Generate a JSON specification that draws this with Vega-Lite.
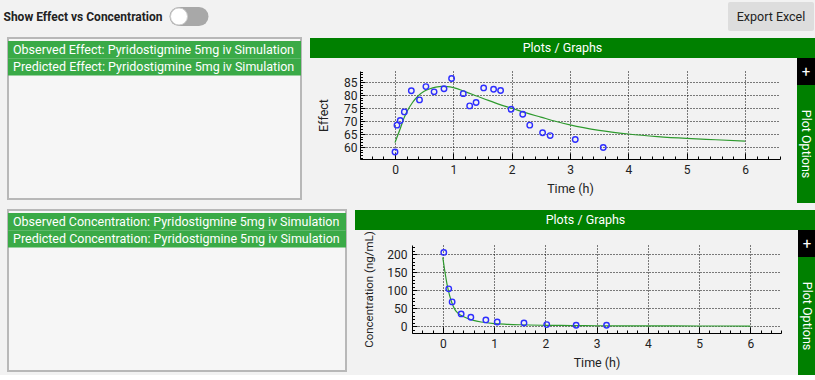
{
  "$schema": "https://vega.github.io/schema/vega-lite/v6.json",
  "background": "#f2f2f2",
  "padding": {"left": 0, "top": 2, "right": 0, "bottom": 0},
  "spacing": 6,
  "config": {
    "view": {"stroke": null},
    "font": "Roboto",
    "text": {"font": "Roboto"},
    "axis": {
      "labelFont": "Roboto", "labelFontSize": 12, "labelColor": "#222",
      "titleFont": "Roboto", "titleFontSize": 12.5, "titleFontWeight": "normal", "titleColor": "#222",
      "domainColor": "#000", "tickColor": "#000", "gridColor": "#000", "gridDash": [1, 2], "gridWidth": 1,
      "labelFlush": false, "labelOverlap": false, "tickCount": 100
    }
  },
  "datasets": {
    "effect_obs": [
      {"time": 0.0, "effect": 58.2}, {"time": 0.034, "effect": 68.5}, {"time": 0.09, "effect": 70.3},
      {"time": 0.16, "effect": 73.6}, {"time": 0.28, "effect": 81.7}, {"time": 0.42, "effect": 78.2},
      {"time": 0.53, "effect": 83.3}, {"time": 0.67, "effect": 81.3}, {"time": 0.84, "effect": 82.5},
      {"time": 0.97, "effect": 86.4}, {"time": 1.17, "effect": 80.6}, {"time": 1.28, "effect": 75.9},
      {"time": 1.39, "effect": 77.2}, {"time": 1.52, "effect": 82.8}, {"time": 1.69, "effect": 82.3},
      {"time": 1.81, "effect": 81.8}, {"time": 1.99, "effect": 74.6}, {"time": 2.19, "effect": 72.7},
      {"time": 2.31, "effect": 68.5}, {"time": 2.53, "effect": 65.6}, {"time": 2.66, "effect": 64.5},
      {"time": 3.09, "effect": 63.0}, {"time": 3.57, "effect": 59.9}
    ],
    "effect_pred": [
      {"time": 0, "effect": 61.8}, {"time": 0.05, "effect": 64.8}, {"time": 0.1, "effect": 67.8},
      {"time": 0.15, "effect": 71.0}, {"time": 0.2, "effect": 73.5}, {"time": 0.3, "effect": 77.2},
      {"time": 0.4, "effect": 79.8}, {"time": 0.5, "effect": 81.5}, {"time": 0.6, "effect": 82.5},
      {"time": 0.7, "effect": 83.1}, {"time": 0.8, "effect": 83.4}, {"time": 0.9, "effect": 83.3},
      {"time": 1.0, "effect": 82.9}, {"time": 1.2, "effect": 81.4}, {"time": 1.4, "effect": 79.7},
      {"time": 1.6, "effect": 78.0}, {"time": 1.8, "effect": 76.4}, {"time": 2.0, "effect": 75.0},
      {"time": 2.25, "effect": 73.2}, {"time": 2.5, "effect": 71.6}, {"time": 2.75, "effect": 70.0},
      {"time": 3.0, "effect": 68.6}, {"time": 3.5, "effect": 66.5}, {"time": 4.0, "effect": 65.1},
      {"time": 4.5, "effect": 64.1}, {"time": 5.0, "effect": 63.4}, {"time": 5.5, "effect": 62.9},
      {"time": 6.0, "effect": 62.4}
    ],
    "conc_obs": [
      {"time": 0.02, "conc": 205.6}, {"time": 0.117, "conc": 104.2}, {"time": 0.183, "conc": 67.9},
      {"time": 0.359, "conc": 34.4}, {"time": 0.548, "conc": 25.1}, {"time": 0.841, "conc": 17.7},
      {"time": 1.063, "conc": 12.1}, {"time": 1.585, "conc": 9.3}, {"time": 2.029, "conc": 4.7},
      {"time": 2.603, "conc": 2.8}, {"time": 3.196, "conc": 2.8}
    ],
    "conc_pred": [
      {"time": 0, "conc": 192}, {"time": 0.04, "conc": 154}, {"time": 0.085, "conc": 116},
      {"time": 0.137, "conc": 84}, {"time": 0.18, "conc": 65}, {"time": 0.235, "conc": 47},
      {"time": 0.3, "conc": 36}, {"time": 0.4, "conc": 27}, {"time": 0.5, "conc": 21},
      {"time": 0.6, "conc": 16.5}, {"time": 0.75, "conc": 12}, {"time": 1.0, "conc": 7.5},
      {"time": 1.25, "conc": 5.5}, {"time": 1.5, "conc": 4.2}, {"time": 2.0, "conc": 2.8},
      {"time": 2.5, "conc": 2.0}, {"time": 3.0, "conc": 1.5}, {"time": 4.0, "conc": 1.0},
      {"time": 5.0, "conc": 0.8}, {"time": 6.0, "conc": 0.7}
    ]
  },
  "vconcat": [
    {
      "hconcat": [
        {
          "width": 166, "height": 29,
          "data": {"values": [{"label": "Show Effect vs Concentration"}]},
          "mark": {"type": "text", "fontSize": 12, "fontWeight": "bold", "color": "#222"},
          "encoding": {"text": {"field": "label"}}
        },
        {"width": 2, "height": 29, "data": {"values": []}, "mark": "point"},
        {
          "width": 40, "height": 29,
          "data": {"values": [{"state": "off"}]},
          "layer": [
            {
              "mark": {"type": "rule", "strokeWidth": 19, "strokeCap": "round", "color": "#a8a8a8"},
              "encoding": {
                "x": {"datum": 0.25, "type": "quantitative", "scale": {"domain": [0, 1], "nice": false}, "axis": null},
                "x2": {"datum": 0.75},
                "y": {"datum": 0.5, "type": "quantitative", "scale": {"domain": [0, 1], "nice": false}, "axis": null}
              }
            },
            {
              "mark": {"type": "point", "filled": true, "color": "#ffffff", "size": 290, "stroke": "#cccccc", "strokeWidth": 1, "opacity": 1},
              "encoding": {
                "x": {"datum": 0.25, "type": "quantitative"},
                "y": {"datum": 0.5, "type": "quantitative"}
              }
            }
          ]
        },
        {"width": 519, "height": 29, "data": {"values": []}, "mark": "point"},
        {
          "width": 86, "height": 29,
          "view": {"fill": "#dddddd", "cornerRadius": 2, "stroke": null},
          "data": {"values": [{"label": "Export Excel"}]},
          "mark": {"type": "text", "fontSize": 12.5, "color": "#222"},
          "encoding": {"text": {"field": "label"}}
        }
      ],
      "spacing": 0
    },
    {
      "hconcat": [
        {"width": 7, "height": 10, "data": {"values": []}, "mark": "point"},
        {
          "width": 293, "height": 161,
          "view": {"fill": "#f6f6f6", "stroke": "#b8b8b8", "strokeWidth": 2},
          "data": {"values": [
            {"row": 1, "label": "Observed Effect: Pyridostigmine 5mg iv Simulation"},
            {"row": 2, "label": "Predicted Effect: Pyridostigmine 5mg iv Simulation"}
          ]},
          "encoding": {
            "y": {"field": "row", "type": "ordinal", "scale": {"domain": [1, 2, 3, 4, 5, 6, 7, 8, 9], "paddingInner": 0, "paddingOuter": 0.18}, "axis": null}
          },
          "layer": [
            {
              "mark": {"type": "bar", "color": "#3aaa47"},
              "encoding": {
                "x": {"datum": 0, "type": "quantitative", "scale": {"domain": [0, 1], "nice": false}, "axis": null},
                "x2": {"datum": 1}
              }
            },
            {
              "mark": {"type": "text", "align": "left", "dx": 5, "fontSize": 12.5, "color": "#ffffff"},
              "encoding": {
                "x": {"datum": 0, "type": "quantitative"},
                "text": {"field": "label"}
              }
            }
          ]
        },
        {"width": 8, "height": 10, "data": {"values": []}, "mark": "point"},
        {
          "vconcat": [
            {
              "width": 505, "height": 20,
              "view": {"fill": "#008000", "stroke": null},
              "data": {"values": [{"label": "Plots / Graphs"}]},
              "mark": {"type": "text", "fontSize": 12.5, "color": "#ffffff"},
              "encoding": {"text": {"field": "label"}}
            },
            {
              "hconcat": [
                {"width": 7, "height": 145, "data": {"values": []}, "mark": "point"},
                {
                  "vconcat": [
                    {"width": 1, "height": 7, "data": {"values": []}, "mark": "point"},
                    {
                      "width": 420, "height": 88,
                      "layer": [
                        {
                          "data": {"name": "effect_pred"},
                          "mark": {"type": "line", "color": "#2e9a2e", "strokeWidth": 1.2, "interpolate": "monotone", "clip": true},
                          "encoding": {
                            "x": {
                              "field": "time", "type": "quantitative",
                              "scale": {"domain": [-0.6, 6.6], "nice": false, "zero": false},
                              "axis": {
                                "title": "Time (h)",
                                "tickCount": 100,
                                "labelOverlap": false,
                                "values": [-0.6, -0.4, -0.2, 0, 0.2, 0.4, 0.6, 0.8, 1, 1.2, 1.4, 1.6, 1.8, 2, 2.2, 2.4, 2.6, 2.8, 3, 3.2, 3.4, 3.6, 3.8, 4, 4.2, 4.4, 4.6, 4.8, 5, 5.2, 5.4, 5.6, 5.8, 6, 6.2, 6.4, 6.6],
                                "labelExpr": "datum.value % 1 === 0 ? format(datum.value, 'd') : ''",
                                "tickSize": {"condition": {"test": "datum.value % 1 === 0", "value": -6}, "value": -3},
                                "grid": true,
                                "gridOpacity": {"condition": {"test": "datum.value % 1 === 0", "value": 1}, "value": 0},
                                "labelPadding": 11,
                                "titlePadding": 4
                              }
                            },
                            "y": {
                              "field": "effect", "type": "quantitative",
                              "scale": {"domain": [55.5, 89.3], "nice": false, "zero": false},
                              "axis": {
                                "title": "Effect",
                                "tickCount": 100,
                                "labelOverlap": false,
                                "values": [56, 57, 58, 59, 60, 61, 62, 63, 64, 65, 66, 67, 68, 69, 70, 71, 72, 73, 74, 75, 76, 77, 78, 79, 80, 81, 82, 83, 84, 85, 86, 87, 88, 89],
                                "labelExpr": "datum.value % 5 === 0 ? format(datum.value, 'd') : ''",
                                "tickSize": {"condition": {"test": "datum.value % 5 === 0", "value": -5}, "value": -2.5},
                                "grid": true,
                                "gridOpacity": {"condition": {"test": "datum.value % 5 === 0", "value": 1}, "value": 0},
                                "labelPadding": 8,
                                "titlePadding": 13
                              }
                            }
                          }
                        },
                        {
                          "data": {"name": "effect_obs"},
                          "mark": {"type": "point", "filled": false, "color": "#2e2eff", "size": 30, "strokeWidth": 1.4, "opacity": 1},
                          "encoding": {
                            "x": {"field": "time", "type": "quantitative"},
                            "y": {"field": "effect", "type": "quantitative"}
                          }
                        }
                      ]
                    }
                  ],
                  "spacing": 0
                },
                {"width": 16, "height": 10, "data": {"values": []}, "mark": "point"},
                {
                  "vconcat": [
                    {
                      "width": 18, "height": 27,
                      "view": {"fill": "#000000", "stroke": null},
                      "data": {"values": [{"label": "+"}]},
                      "mark": {"type": "text", "fontSize": 15, "color": "#ffffff"},
                      "encoding": {"text": {"field": "label"}}
                    },
                    {
                      "width": 18, "height": 118,
                      "view": {"fill": "#008000", "stroke": null},
                      "data": {"values": [{"label": "Plot Options"}]},
                      "mark": {"type": "text", "fontSize": 12.5, "angle": 90, "color": "#ffffff"},
                      "encoding": {"text": {"field": "label"}}
                    }
                  ],
                  "spacing": 0
                }
              ],
              "spacing": 0
            }
          ],
          "spacing": 0
        }
      ],
      "spacing": 0
    },
    {
      "hconcat": [
        {"width": 7, "height": 10, "data": {"values": []}, "mark": "point"},
        {
          "width": 338, "height": 161,
          "view": {"fill": "#f6f6f6", "stroke": "#b8b8b8", "strokeWidth": 2},
          "data": {"values": [
            {"row": 1, "label": "Observed Concentration: Pyridostigmine 5mg iv Simulation"},
            {"row": 2, "label": "Predicted Concentration: Pyridostigmine 5mg iv Simulation"}
          ]},
          "encoding": {
            "y": {"field": "row", "type": "ordinal", "scale": {"domain": [1, 2, 3, 4, 5, 6, 7, 8, 9], "paddingInner": 0, "paddingOuter": 0.18}, "axis": null}
          },
          "layer": [
            {
              "mark": {"type": "bar", "color": "#3aaa47"},
              "encoding": {
                "x": {"datum": 0, "type": "quantitative", "scale": {"domain": [0, 1], "nice": false}, "axis": null},
                "x2": {"datum": 1}
              }
            },
            {
              "mark": {"type": "text", "align": "left", "dx": 5, "fontSize": 12.5, "color": "#ffffff"},
              "encoding": {
                "x": {"datum": 0, "type": "quantitative"},
                "text": {"field": "label"}
              }
            }
          ]
        },
        {"width": 8, "height": 10, "data": {"values": []}, "mark": "point"},
        {
          "hconcat": [
            {
              "vconcat": [
                {
                  "width": 443, "height": 20,
                  "view": {"fill": "#008000", "stroke": null},
                  "data": {"values": [{"label": "Plots / Graphs"}]},
                  "mark": {"type": "text", "fontSize": 12.5, "color": "#ffffff", "dx": 9},
                  "encoding": {"text": {"field": "label"}}
                },
                {
                  "hconcat": [
                    {"width": 8, "height": 10, "data": {"values": []}, "mark": "point"},
                    {
                      "width": 369, "height": 88,
                      "layer": [
                        {
                          "data": {"name": "conc_pred"},
                          "mark": {"type": "line", "color": "#2e9a2e", "strokeWidth": 1.2, "interpolate": "monotone", "clip": true},
                          "encoding": {
                            "x": {
                              "field": "time", "type": "quantitative",
                              "scale": {"domain": [-0.6, 6.6], "nice": false, "zero": false},
                              "axis": {
                                "title": "Time (h)",
                                "tickCount": 100,
                                "labelOverlap": false,
                                "values": [-0.6, -0.4, -0.2, 0, 0.2, 0.4, 0.6, 0.8, 1, 1.2, 1.4, 1.6, 1.8, 2, 2.2, 2.4, 2.6, 2.8, 3, 3.2, 3.4, 3.6, 3.8, 4, 4.2, 4.4, 4.6, 4.8, 5, 5.2, 5.4, 5.6, 5.8, 6, 6.2, 6.4, 6.6],
                                "labelExpr": "datum.value % 1 === 0 ? format(datum.value, 'd') : ''",
                                "tickSize": {"condition": {"test": "datum.value % 1 === 0", "value": -6}, "value": -3},
                                "grid": true,
                                "gridOpacity": {"condition": {"test": "datum.value % 1 === 0", "value": 1}, "value": 0},
                                "labelPadding": 11,
                                "titlePadding": 4
                              }
                            },
                            "y": {
                              "field": "conc", "type": "quantitative",
                              "scale": {"domain": [-18.7, 226.3], "nice": false, "zero": false},
                              "axis": {
                                "title": "Concentration (ng/mL)",
                                "titleFontSize": 11.5,
                                "tickCount": 100,
                                "labelOverlap": false,
                                "values": [-10, 0, 10, 20, 30, 40, 50, 60, 70, 80, 90, 100, 110, 120, 130, 140, 150, 160, 170, 180, 190, 200, 210, 220],
                                "labelExpr": "datum.value % 50 === 0 ? format(datum.value, 'd') : ''",
                                "tickSize": {"condition": {"test": "datum.value % 50 === 0", "value": -5}, "value": -2.5},
                                "grid": true,
                                "gridOpacity": {"condition": {"test": "datum.value % 50 === 0", "value": 1}, "value": 0},
                                "labelPadding": 10,
                                "titlePadding": 12
                              }
                            }
                          }
                        },
                        {
                          "data": {"name": "conc_obs"},
                          "mark": {"type": "point", "filled": false, "color": "#2e2eff", "size": 30, "strokeWidth": 1.4, "opacity": 1},
                          "encoding": {
                            "x": {"field": "time", "type": "quantitative"},
                            "y": {"field": "conc", "type": "quantitative"}
                          }
                        }
                      ]
                    }
                  ],
                  "spacing": 0
                }
              ],
              "spacing": 0
            },
            {
              "vconcat": [
                {
                  "width": 18, "height": 20,
                  "view": {"fill": "#008000", "stroke": null},
                  "data": {"values": []},
                  "mark": "point"
                },
                {
                  "width": 18, "height": 27,
                  "view": {"fill": "#000000", "stroke": null},
                  "data": {"values": [{"label": "+"}]},
                  "mark": {"type": "text", "fontSize": 15, "color": "#ffffff"},
                  "encoding": {"text": {"field": "label"}}
                },
                {
                  "width": 18, "height": 118,
                  "view": {"fill": "#008000", "stroke": null},
                  "data": {"values": [{"label": "Plot Options"}]},
                  "mark": {"type": "text", "fontSize": 12.5, "angle": 90, "color": "#ffffff"},
                  "encoding": {"text": {"field": "label"}}
                }
              ],
              "spacing": 0
            }
          ],
          "spacing": 0
        }
      ],
      "spacing": 0
    }
  ]
}
